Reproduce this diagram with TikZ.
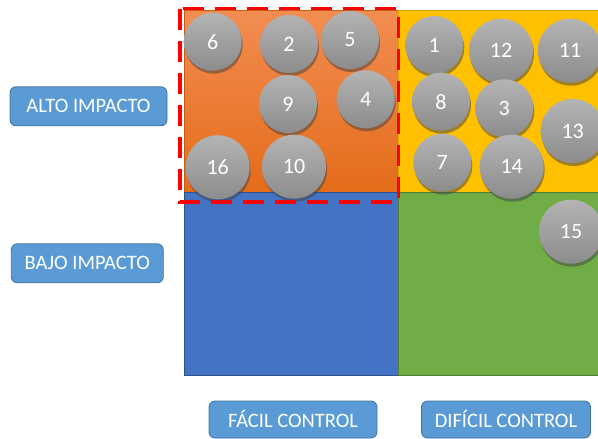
\documentclass[tikz,border=0pt]{standalone}
\usepackage{fontspec}
\setmainfont{Carlito}
\usetikzlibrary{shadows}

\definecolor{tagfill}{HTML}{5B9BD5}
\definecolor{tagedge}{HTML}{41719C}
\definecolor{orangetop}{HTML}{F28D52}
\definecolor{orangebot}{HTML}{E46C1A}
\definecolor{orangeedge}{HTML}{C55A11}
\definecolor{quadyellow}{HTML}{FFC000}
\definecolor{yellowedge}{HTML}{D9A300}
\definecolor{quadblue}{HTML}{4472C4}
\definecolor{blueedge}{HTML}{2F528F}
\definecolor{quadgreen}{HTML}{70AD47}
\definecolor{greenedge}{HTML}{507E32}
\definecolor{risktop}{HTML}{B4B4B4}
\definecolor{riskbot}{HTML}{8C8C8C}

\tikzset{
  risk/.style={circle, inner sep=0pt, minimum size=58pt, top color=risktop, bottom color=riskbot,
    text=white, font=\fontsize{22}{26}\selectfont,
    drop shadow={shadow xshift=1pt, shadow yshift=-3pt, opacity=0.5, fill=black!75}},
  bigrisk/.style={risk, minimum size=64pt},
  tagbox/.style={draw=tagedge, fill=tagfill, rounded corners=6pt, line width=0.8pt,
    text=white, font=\fontsize{20.5}{24}\selectfont, inner sep=0pt}
}

\begin{document}
\begin{tikzpicture}[x=1pt,y=-1pt]
\useasboundingbox (0,0) rectangle (598,439);

% Quadrants
\filldraw[draw=orangeedge, line width=0.6pt, top color=orangetop, bottom color=orangebot] (184,10) rectangle (398,192);
\filldraw[draw=yellowedge, line width=0.6pt, fill=quadyellow] (398,10) rectangle (600,192);
\filldraw[draw=blueedge, line width=0.6pt, fill=quadblue] (184,192) rectangle (398,375);
\filldraw[draw=greenedge, line width=0.6pt, fill=quadgreen] (398,192) rectangle (600,375);

% Risks, easy control / high impact
\node[risk] (r6) at (212.7,41.7) {6};
\node[risk] (r2) at (289,44) {2};
\node[risk] (r5) at (350,40) {5};
\node[risk] (r9) at (288,104) {9};
\node[risk] (r4) at (365.7,99.3) {4};
\node[bigrisk] (r16) at (217.7,167.3) {16};
\node[bigrisk] (r10) at (294,166.7) {10};

% Risks, hard control
\node[risk] (r1) at (434.3,45) {1};
\node[bigrisk] (r12) at (501,50.7) {12};
\node[bigrisk] (r11) at (570,50.7) {11};
\node[risk] (r8) at (441,101.7) {8};
\node[risk] (r3) at (504.3,108.3) {3};
\node[bigrisk] (r13) at (572.7,131) {13};
\node[risk] (r7) at (442.3,162.7) {7};
\node[bigrisk] (r14) at (511.7,166.7) {14};
\node[bigrisk] (r15) at (571,231.7) {15};

% Priority zone
\draw[red, line width=3.5pt, dash pattern=on 21pt off 11pt] (180,8.5) rectangle (398.5,202);

% Axis labels
\node[tagbox, minimum width=157pt, minimum height=39pt] (alto) at (88.5,106.3) {ALTO IMPACTO};
\node[tagbox, minimum width=152pt, minimum height=39pt] (bajo) at (87.3,263.3) {BAJO IMPACTO};
\node[tagbox, minimum width=168pt, minimum height=37pt] (facil) at (293,419.5) {FÁCIL CONTROL};
\node[tagbox, minimum width=169pt, minimum height=37pt] (dificil) at (506,419.5) {DIFÍCIL CONTROL};

\end{tikzpicture}
\end{document}
